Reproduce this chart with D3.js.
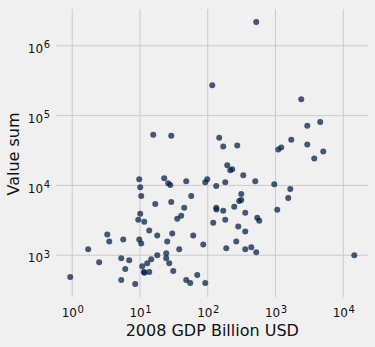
<!DOCTYPE html>
<html>
<head>
<meta charset="utf-8">
<script src="https://cdn.jsdelivr.net/npm/d3@7"></script>
<style>
  html, body { margin: 0; padding: 0; background: #f0f0f0; }
  svg { display: block; font-family: "DejaVu Sans", sans-serif; }
</style>
</head>
<body>
<svg id="chart" width="375" height="347"></svg>
<script>
// 2008 GDP (billion USD) per country
const gdp = [
  0.934, 1.72, 2.50, 3.29, 3.52, 5.29, 5.29, 5.66, 6.06, 6.94,
  8.51, 9.75, 10.09, 10.43, 10.09, 9.43, 9.75, 10.43, 10.8, 11.56,
  11.44, 11.63, 13.69, 12.8, 14.66, 13.69, 17.97, 17.97, 16.8, 15.69,
  22.8, 26.12, 27.97, 28.93, 28.93, 29.93, 25.25, 24.41, 24.41, 27.02,
  30.96, 35.46, 40.63, 37.96, 45.0, 48.16, 57.08, 61.1, 48.16, 55.17,
  69.98, 85.8, 91.9, 91.9, 98.3, 116.5, 133.5, 133.5, 134.4, 120.5,
  147.8, 169.3, 169.3, 181.3, 181.3, 187.5, 194.0, 214.8, 229.9, 246.1,
  263.5, 272.5, 281.9, 312.3, 291.6, 312.3, 334.2, 357.7, 357.7, 357.7,
  438.7, 519.7, 502.4, 519.7, 537.8, 575.6, 958.4, 1061, 1098, 1216,
  1543, 1651, 1708, 2399, 2942, 2942, 3733, 4576, 5068, 14540
];

// Summed value per country
const valueSum = [
  488, 1216, 796, 1982, 1578, 907, 443, 1683, 634, 850,
  389, 12290, 9460, 7060, 3929, 3228, 1683, 1479, 699, 3027,
  574, 562, 574, 771, 878, 2259, 1919, 1000, 5442, 53240,
  12700, 10790, 10110, 51530, 5810, 2048, 1578, 1067, 907, 771,
  594, 3339, 3681, 1216, 4778, 11515, 7060, 1919, 443, 402,
  521, 1431, 402, 11145, 12290, 271600, 9783, 4778, 4521, 2931,
  48300, 36020, 4333, 11145, 3228, 1256, 19395, 16480, 17025, 4935,
  1578, 37220, 2573, 7540, 6001, 6200, 14005, 4060, 2186, 1216,
  1298, 1103, 11515, 2185000, 3449, 3129, 10440, 4476, 32680, 34860,
  6618, 8874, 45250, 172100, 71400, 38440, 24360, 81340, 30600, 1000
];

const xTickValues = [1, 10, 100, 1000, 10000];
const yTickValues = [1000, 10000, 100000, 1000000];
const xTitle = "2008 GDP Billion USD";
const yTitle = "Value sum";

const svg = d3.select("#chart");
const plot = { left: 56, right: 368.5, top: 9, bottom: 297 };

// Log-space extent padded by 5% on each side
function paddedLogDomain(values) {
  const lo = Math.log10(d3.min(values)), hi = Math.log10(d3.max(values));
  const pad = (hi - lo) * 0.05;
  return [Math.pow(10, lo - pad), Math.pow(10, hi + pad)];
}

const x = d3.scaleLog().domain(paddedLogDomain(gdp)).range([plot.left, plot.right]);
const y = d3.scaleLog().domain(paddedLogDomain(valueSum)).range([plot.bottom, plot.top]);

// Grid lines
const grid = svg.append("g").attr("stroke", "#cbcbcb").attr("stroke-width", 1);
grid.selectAll("line.v").data(xTickValues).join("line")
  .attr("class", "v")
  .attr("x1", d => x(d)).attr("x2", d => x(d))
  .attr("y1", plot.top).attr("y2", plot.bottom);
grid.selectAll("line.h").data(yTickValues).join("line")
  .attr("class", "h")
  .attr("x1", plot.left).attr("x2", plot.right)
  .attr("y1", d => y(d)).attr("y2", d => y(d));

// Power-of-ten tick labels
function powerLabel(sel) {
  sel.each(function(d) {
    const t = d3.select(this);
    t.text(null);
    t.append("tspan").text("10");
    t.append("tspan").attr("dy", "-0.45em").attr("dx", "0.5").attr("font-size", "10px")
      .text(Math.round(Math.log10(d)));
  });
}

const xAxis = d3.axisBottom(x).tickValues(xTickValues).tickSize(0).tickPadding(0);
const gx = svg.append("g").attr("transform", `translate(0,${plot.bottom})`).call(xAxis);
gx.select(".domain").remove();
gx.selectAll(".tick text")
  .attr("y", 20).attr("dy", null)
  .attr("font-size", "12px").attr("fill", "#111")
  .attr("font-family", "DejaVu Sans, sans-serif")
  .call(powerLabel);

const yAxis = d3.axisLeft(y).tickValues(yTickValues).tickSize(0).tickPadding(0);
const gy = svg.append("g").attr("transform", `translate(${plot.left},0)`).call(yAxis);
gy.select(".domain").remove();
gy.selectAll(".tick text")
  .attr("x", -6).attr("dy", "0.55em")
  .attr("font-size", "12px").attr("fill", "#111")
  .attr("font-family", "DejaVu Sans, sans-serif")
  .call(powerLabel);

// Scatter points
const points = gdp.map((g, i) => ({ g, v: valueSum[i] }));
svg.append("g").selectAll("circle").data(points).join("circle")
  .attr("cx", d => x(d.g))
  .attr("cy", d => y(d.v))
  .attr("r", 3)
  .attr("fill", "#001a44")
  .attr("fill-opacity", 0.72);

// Axis titles
svg.append("text")
  .attr("x", (plot.left + plot.right) / 2).attr("y", 336)
  .attr("text-anchor", "middle").attr("font-size", "16px").attr("fill", "#111")
  .text(xTitle);
svg.append("text")
  .attr("transform", `translate(19,${(plot.top + plot.bottom) / 2 + 1}) rotate(-90)`)
  .attr("text-anchor", "middle").attr("font-size", "16px").attr("fill", "#111")
  .text(yTitle);
</script>
</body>
</html>
